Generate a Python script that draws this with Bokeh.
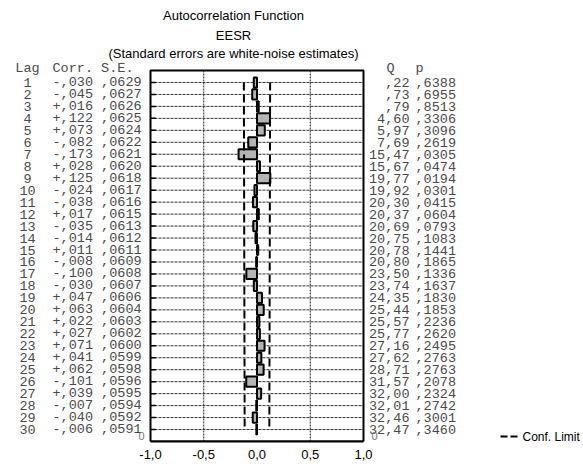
from bokeh.plotting import figure
from bokeh.models import Range1d, ColumnDataSource, FixedTicker
from bokeh.core.properties import value
from bokeh.embed import file_html
from bokeh.resources import INLINE

# ---------------- data ----------------
lags = list(range(1, 31))
corr = [-0.030, -0.045, 0.016, 0.122, 0.073, -0.082, -0.173, 0.028, 0.125, -0.024,
        -0.038, 0.017, -0.035, -0.014, 0.011, -0.008, -0.100, -0.030, 0.047, 0.063,
        0.022, 0.027, 0.071, 0.041, 0.062, -0.101, 0.039, -0.007, -0.040, -0.006]
se = [0.0629, 0.0627, 0.0626, 0.0625, 0.0624, 0.0622, 0.0621, 0.0620, 0.0618, 0.0617,
      0.0616, 0.0615, 0.0613, 0.0612, 0.0611, 0.0609, 0.0608, 0.0607, 0.0606, 0.0604,
      0.0603, 0.0602, 0.0600, 0.0599, 0.0598, 0.0596, 0.0595, 0.0594, 0.0592, 0.0591]
q_stat = [0.22, 0.73, 0.79, 4.60, 5.97, 7.69, 15.47, 15.67, 19.77, 19.92,
          20.30, 20.37, 20.69, 20.75, 20.78, 20.80, 23.50, 23.74, 24.35, 25.44,
          25.57, 25.77, 27.16, 27.62, 28.71, 31.57, 32.00, 32.01, 32.46, 32.47]
p_val = [0.6388, 0.6955, 0.8513, 0.3306, 0.3096, 0.2619, 0.0305, 0.0474, 0.0194, 0.0301,
         0.0415, 0.0604, 0.0793, 0.1083, 0.1441, 0.1865, 0.1336, 0.1637, 0.1830, 0.1853,
         0.2236, 0.2620, 0.2495, 0.2763, 0.2763, 0.2078, 0.2324, 0.2742, 0.3001, 0.3460]
x_ticks = [-1.0, -0.5, 0.0, 0.5, 1.0]
x_tick_labels = ["-1,0", "-0,5", "0,0", "0,5", "1,0"]
grid_x = [-0.5, 0.5]
titles = ["Autocorrelation Function", "EESR", "(Standard errors are white-noise estimates)"]
legend_label = "Conf. Limit"
conf_z = 1.96
LAG_MAX = 31   # lag axis runs 0 (top) .. 31 (bottom)

# ---------------- layout constants (page pixels) ----------------
W, H = 583, 466
FL, FR, FT, FB = 150, 363, 70, 441   # box of the correlation chart
PX_PER_X = (FR - FL) / 2.0
PX_PER_LAG = (FB - FT) / LAG_MAX


def xd(px):
    return -1 + (px - FL) / PX_PER_X


def yd(py):
    return (py - FT) / PX_PER_LAG


mono = value("Liberation Mono")
sans = value("Liberation Sans")
tcol = "#4a4a4a"
FS = "13.5px"


def fmt_corr(c):
    return ("+" if c >= 0 else "-") + f"{abs(c):.3f}"[1:].replace(".", ",")


def fmt_frac(s):
    return f"{s:.4f}"[1:].replace(".", ",")


def fmt_q(q):
    s = f"{q:.2f}".replace(".", ",")
    return s[1:] if s.startswith("0,") else s


n = len(lags)
src = ColumnDataSource(dict(
    lag=lags, corr=corr, zero=[0] * n,
    lo=[-conf_z * s for s in se], hi=[conf_z * s for s in se],
    lag_txt=[str(l) for l in lags],
    cs_txt=[f"{fmt_corr(c)} {fmt_frac(s)}" for c, s in zip(corr, se)],
    q_txt=[fmt_q(q) for q in q_stat],
    p_txt=[fmt_frac(pv) for pv in p_val],
))

p = figure(width=W, height=H, output_backend="svg", toolbar_location=None,
           x_range=Range1d(xd(0), xd(W)), y_range=Range1d(LAG_MAX, yd(0)),
           y_axis_location=None,
           min_border_left=0, min_border_right=0, min_border_top=0,
           min_border_bottom=H - FB)
p.background_fill_color = "white"
p.border_fill_color = "white"
p.outline_line_color = None
p.grid.visible = False

# x axis limited to the chart box
p.xaxis.bounds = (-1, 1)
p.xaxis.ticker = FixedTicker(ticks=x_ticks)
p.xaxis.major_label_overrides = {t: s for t, s in zip(x_ticks, x_tick_labels)}
p.xaxis.major_label_text_font = "Liberation Sans"
p.xaxis.major_label_text_font_size = "13px"
p.xaxis.major_label_text_color = "black"
p.xaxis.major_tick_out = 0
p.xaxis.major_tick_in = 0
p.xaxis.minor_tick_line_color = None
p.xaxis.axis_line_width = 2
p.xaxis.axis_line_color = "black"
p.xaxis.major_label_standoff = 8

# dotted vertical grid lines at +-0.5
p.segment(x0=grid_x, y0=[0] * len(grid_x), x1=grid_x, y1=[LAG_MAX] * len(grid_x),
          line_color="#222222", line_dash="2 1", line_width=1)

# horizontal lag lines with a short solid tick at the left edge
p.segment(x0=-1, y0="lag", x1=1, y1="lag", source=src,
          line_color="#333333", line_dash="3 1", line_width=1)
p.segment(x0=-1, y0="lag", x1=-0.95, y1="lag", source=src,
          line_color="black", line_width=1.5)

# bars
p.hbar(y="lag", left="zero", right="corr", height=0.85, source=src,
       fill_color="#b4b4b4", line_color="black", line_width=2)

# confidence limits
p.line("hi", "lag", source=src, line_color="black", line_width=2, line_dash="8 4")
p.line("lo", "lag", source=src, line_color="black", line_width=2, line_dash="8 4")

# chart box
p.quad(left=[-1], right=[1], top=[0], bottom=[LAG_MAX], fill_color=None,
       line_color="black", line_width=2)

# ---------------- text table ----------------
common = dict(text_font=mono, text_font_size=FS, text_color=tcol, text_baseline="middle")
p.text(x=xd(27), y="lag", text="lag_txt", source=src, text_align="center", **common)
p.text(x=xd(52), y="lag", text="cs_txt", source=src, text_align="left", **common)
p.text(x=xd(409), y="lag", text="q_txt", source=src, text_align="right", **common)
p.text(x=xd(415), y="lag", text="p_txt", source=src, text_align="left", **common)

hy = yd(68)
p.text(x=[xd(27)], y=[hy], text=["Lag"], text_align="center", **common)
p.text(x=[xd(52)], y=[hy], text=["Corr. S.E."], text_align="left", **common)
p.text(x=[xd(390)], y=[hy], text=["Q"], text_align="center", **common)
p.text(x=[xd(415)], y=[hy], text=["p"], text_align="left", **common)

# the two "0" marks at the bottom of the table
p.text(x=[xd(144), xd(371)], y=[yd(435.5)] * 2, text=["0", "0"],
       text_align=["right", "left"], text_font=sans, text_font_size="11px",
       text_color="#777777", text_baseline="middle")

# titles
p.text(x=[xd(233)] * 3, y=[yd(15), yd(35), yd(53)], text=titles, text_font=sans,
       text_font_size="13px", text_color="black", text_align="center",
       text_baseline="middle")

# legend (drawn in the same coordinates, just above the bottom edge)
ly = yd(436)
p.segment(x0=[xd(500)], y0=[ly], x1=[xd(517)], y1=[ly],
          line_color="black", line_width=2, line_dash="7 3")
p.text(x=[xd(522)], y=[ly], text=[legend_label], text_font=sans,
       text_font_size="12px", text_color="black", text_align="left",
       text_baseline="middle")

open("out.html", "w").write(file_html(p, INLINE))
